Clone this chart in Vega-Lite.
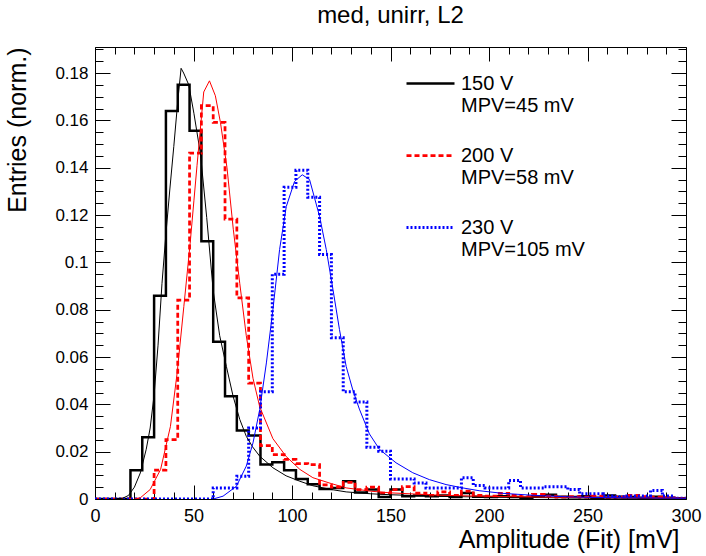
{
  "$schema": "https://vega.github.io/schema/vega-lite/v6.json",
  "width": 591,
  "height": 452,
  "autosize": "none",
  "padding": {"left": 95, "top": 47, "right": 20, "bottom": 57},
  "background": "white",
  "config": {"view": {"stroke": "black", "strokeWidth": 1}, "font": "Liberation Sans"},
  "title": {"text": "med, unirr, L2", "fontSize": 24, "font": "Liberation Sans", "fontWeight": "normal", "color": "black", "anchor": "middle", "offset": 12},
  "datasets": {
    "hist": [
      {"s":"150","x":0,"v":0},{"s":"150","x":6,"v":0},{"s":"150","x":12,"v":0},{"s":"150","x":18,"v":0.0122},{"s":"150","x":24,"v":0.0261},{"s":"150","x":30,"v":0.0859},{"s":"150","x":36,"v":0.164},{"s":"150","x":42,"v":0.175},{"s":"150","x":48,"v":0.1556},{"s":"150","x":54,"v":0.1089},
      {"s":"150","x":60,"v":0.0665},{"s":"150","x":66,"v":0.0434},{"s":"150","x":72,"v":0.0289},{"s":"150","x":78,"v":0.0268},{"s":"150","x":84,"v":0.0146},{"s":"150","x":90,"v":0.0155},{"s":"150","x":96,"v":0.0122},{"s":"150","x":102,"v":0.0084},{"s":"150","x":108,"v":0.0062},{"s":"150","x":114,"v":0.0042},
      {"s":"150","x":120,"v":0.0046},{"s":"150","x":126,"v":0.0075},{"s":"150","x":132,"v":0.0027},{"s":"150","x":138,"v":0.004},{"s":"150","x":144,"v":0.0008},{"s":"150","x":150,"v":0.004},{"s":"150","x":156,"v":0.0012},{"s":"150","x":162,"v":0.0015},{"s":"150","x":168,"v":0.0012},{"s":"150","x":174,"v":0.0015},
      {"s":"150","x":180,"v":0.0008},{"s":"150","x":186,"v":0.0025},{"s":"150","x":192,"v":0.001},{"s":"150","x":198,"v":0.0008},{"s":"150","x":204,"v":0.0012},{"s":"150","x":210,"v":0.0008},{"s":"150","x":216,"v":0.0005},{"s":"150","x":222,"v":0.0012},{"s":"150","x":228,"v":0.0018},{"s":"150","x":234,"v":0.001},
      {"s":"150","x":240,"v":0.0008},{"s":"150","x":246,"v":0.0012},{"s":"150","x":252,"v":0.0005},{"s":"150","x":258,"v":0.0015},{"s":"150","x":264,"v":0.001},{"s":"150","x":270,"v":0.0008},{"s":"150","x":276,"v":0.0005},{"s":"150","x":282,"v":0.001},{"s":"150","x":288,"v":0.0005},{"s":"150","x":294,"v":0.0003},{"s":"150","x":300,"v":0.0003},
      {"s":"200","x":0,"v":0},{"s":"200","x":6,"v":0},{"s":"200","x":12,"v":0},{"s":"200","x":18,"v":0},{"s":"200","x":24,"v":0},{"s":"200","x":30,"v":0.0122},{"s":"200","x":36,"v":0.0251},{"s":"200","x":42,"v":0.084},{"s":"200","x":48,"v":0.1462},{"s":"200","x":54,"v":0.1662},
      {"s":"200","x":60,"v":0.1591},{"s":"200","x":66,"v":0.1183},{"s":"200","x":72,"v":0.085},{"s":"200","x":78,"v":0.049},{"s":"200","x":84,"v":0.0226},{"s":"200","x":90,"v":0.0188},{"s":"200","x":96,"v":0.0167},{"s":"200","x":102,"v":0.015},{"s":"200","x":108,"v":0.0145},{"s":"200","x":114,"v":0.006},
      {"s":"200","x":120,"v":0.005},{"s":"200","x":126,"v":0.007},{"s":"200","x":132,"v":0.004},{"s":"200","x":138,"v":0.005},{"s":"200","x":144,"v":0.0025},{"s":"200","x":150,"v":0.004},{"s":"200","x":156,"v":0.0052},{"s":"200","x":162,"v":0.0025},{"s":"200","x":168,"v":0.0015},{"s":"200","x":174,"v":0.003},
      {"s":"200","x":180,"v":0.0015},{"s":"200","x":186,"v":0.0033},{"s":"200","x":192,"v":0.0015},{"s":"200","x":198,"v":0.0012},{"s":"200","x":204,"v":0.0024},{"s":"200","x":210,"v":0.0015},{"s":"200","x":216,"v":0.001},{"s":"200","x":222,"v":0.002},{"s":"200","x":228,"v":0.0012},{"s":"200","x":234,"v":0.0008},
      {"s":"200","x":240,"v":0.001},{"s":"200","x":246,"v":0.0008},{"s":"200","x":252,"v":0.0012},{"s":"200","x":258,"v":0.0005},{"s":"200","x":264,"v":0.0008},{"s":"200","x":270,"v":0.0015},{"s":"200","x":276,"v":0.001},{"s":"200","x":282,"v":0.0008},{"s":"200","x":288,"v":0.0005},{"s":"200","x":294,"v":0},{"s":"200","x":300,"v":0},
      {"s":"230","x":0,"v":0},{"s":"230","x":6,"v":0},{"s":"230","x":12,"v":0},{"s":"230","x":18,"v":0},{"s":"230","x":24,"v":0},{"s":"230","x":30,"v":0},{"s":"230","x":36,"v":0},{"s":"230","x":42,"v":0},{"s":"230","x":48,"v":0},{"s":"230","x":54,"v":0},
      {"s":"230","x":60,"v":0.0047},{"s":"230","x":66,"v":0.0047},{"s":"230","x":72,"v":0.0096},{"s":"230","x":78,"v":0.03},{"s":"230","x":84,"v":0.0453},{"s":"230","x":90,"v":0.095},{"s":"230","x":96,"v":0.1317},{"s":"230","x":102,"v":0.1389},{"s":"230","x":108,"v":0.1275},{"s":"230","x":114,"v":0.1033},
      {"s":"230","x":120,"v":0.0681},{"s":"230","x":126,"v":0.0453},{"s":"230","x":132,"v":0.041},{"s":"230","x":138,"v":0.0219},{"s":"230","x":144,"v":0.0202},{"s":"230","x":150,"v":0.0085},{"s":"230","x":156,"v":0.0085},{"s":"230","x":162,"v":0.0068},{"s":"230","x":168,"v":0.0047},{"s":"230","x":174,"v":0.0047},
      {"s":"230","x":180,"v":0.0047},{"s":"230","x":186,"v":0.009},{"s":"230","x":192,"v":0.0057},{"s":"230","x":198,"v":0.0047},{"s":"230","x":204,"v":0.0047},{"s":"230","x":210,"v":0.0078},{"s":"230","x":216,"v":0.0047},{"s":"230","x":222,"v":0.0047},{"s":"230","x":228,"v":0.0052},{"s":"230","x":234,"v":0.0052},
      {"s":"230","x":240,"v":0.004},{"s":"230","x":246,"v":0.0022},{"s":"230","x":252,"v":0.0022},{"s":"230","x":258,"v":0.0013},{"s":"230","x":264,"v":0.001},{"s":"230","x":270,"v":0.0013},{"s":"230","x":276,"v":0.0013},{"s":"230","x":282,"v":0.0036},{"s":"230","x":288,"v":0.0013},{"s":"230","x":294,"v":0.0003},{"s":"230","x":300,"v":0.0003}
    ],
    "fit": [
      {"s":"150","x":10,"v":0},{"s":"150","x":14,"v":0.0003},{"s":"150","x":17,"v":0.0015},{"s":"150","x":20,"v":0.005},{"s":"150","x":23,"v":0.011},{"s":"150","x":26,"v":0.021},{"s":"150","x":28,"v":0.03},{"s":"150","x":30,"v":0.044},{"s":"150","x":32,"v":0.065},{"s":"150","x":34,"v":0.091},
      {"s":"150","x":36,"v":0.112},{"s":"150","x":38,"v":0.131},{"s":"150","x":40,"v":0.149},{"s":"150","x":42,"v":0.168},{"s":"150","x":43.7,"v":0.182},{"s":"150","x":45,"v":0.18},{"s":"150","x":47.6,"v":0.175},{"s":"150","x":50.2,"v":0.163},{"s":"150","x":53.5,"v":0.146},{"s":"150","x":56.7,"v":0.119},
      {"s":"150","x":60,"v":0.088},{"s":"150","x":63.3,"v":0.069},{"s":"150","x":66.7,"v":0.056},{"s":"150","x":70.1,"v":0.0434},{"s":"150","x":73.5,"v":0.0336},{"s":"150","x":76.8,"v":0.0265},{"s":"150","x":80,"v":0.022},{"s":"150","x":83.6,"v":0.0181},{"s":"150","x":90.3,"v":0.0132},{"s":"150","x":97,"v":0.0098},
      {"s":"150","x":104,"v":0.0075},{"s":"150","x":110.6,"v":0.0056},{"s":"150","x":120,"v":0.004},{"s":"150","x":127.5,"v":0.003},{"s":"150","x":140,"v":0.0022},{"s":"150","x":150,"v":0.0018},{"s":"150","x":175,"v":0.0011},{"s":"150","x":200,"v":0.0008},{"s":"150","x":250,"v":0.0004},{"s":"150","x":300,"v":0.0002},
      {"s":"200","x":20,"v":0},{"s":"200","x":23,"v":0.0005},{"s":"200","x":28,"v":0.004},{"s":"200","x":33.3,"v":0.0125},{"s":"200","x":38.3,"v":0.0307},{"s":"200","x":41.7,"v":0.0533},{"s":"200","x":45.1,"v":0.0814},{"s":"200","x":48.3,"v":0.108},{"s":"200","x":50.2,"v":0.126},{"s":"200","x":51.8,"v":0.141},
      {"s":"200","x":55.2,"v":0.172},{"s":"200","x":58.1,"v":0.1767},{"s":"200","x":61.1,"v":0.1704},{"s":"200","x":63.7,"v":0.159},{"s":"200","x":67,"v":0.14},{"s":"200","x":70.2,"v":0.114},{"s":"200","x":73.5,"v":0.091},{"s":"200","x":76.8,"v":0.069},{"s":"200","x":80.2,"v":0.051},{"s":"200","x":83.6,"v":0.039},
      {"s":"200","x":90.3,"v":0.0255},{"s":"200","x":97,"v":0.018},{"s":"200","x":104,"v":0.0125},{"s":"200","x":110.6,"v":0.009},{"s":"200","x":120,"v":0.0065},{"s":"200","x":127.5,"v":0.0047},{"s":"200","x":140,"v":0.0033},{"s":"200","x":150,"v":0.0026},{"s":"200","x":175,"v":0.0016},{"s":"200","x":200,"v":0.0011},{"s":"200","x":250,"v":0.0006},{"s":"200","x":300,"v":0.0004},
      {"s":"230","x":60,"v":0},{"s":"230","x":65,"v":0.0012},{"s":"230","x":71.8,"v":0.0054},{"s":"230","x":76.8,"v":0.0139},{"s":"230","x":80.2,"v":0.0237},{"s":"230","x":83.6,"v":0.0378},{"s":"230","x":87,"v":0.0575},{"s":"230","x":90.3,"v":0.08},{"s":"230","x":93.7,"v":0.1054},{"s":"230","x":97.1,"v":0.1236},
      {"s":"230","x":101.3,"v":0.1342},{"s":"230","x":105.2,"v":0.137},{"s":"230","x":108.9,"v":0.135},{"s":"230","x":114,"v":0.1194},{"s":"230","x":117.4,"v":0.1054},{"s":"230","x":120.8,"v":0.0885},{"s":"230","x":124.1,"v":0.0716},{"s":"230","x":127.5,"v":0.056},{"s":"230","x":130.9,"v":0.046},{"s":"230","x":134.2,"v":0.038},
      {"s":"230","x":139.3,"v":0.0275},{"s":"230","x":144.4,"v":0.021},{"s":"230","x":152.8,"v":0.0153},{"s":"230","x":161.3,"v":0.0111},{"s":"230","x":169.7,"v":0.0082},{"s":"230","x":178.2,"v":0.0061},{"s":"230","x":186.6,"v":0.0047},{"s":"230","x":195,"v":0.0035},{"s":"230","x":206.8,"v":0.0024},{"s":"230","x":223.7,"v":0.0015},
      {"s":"230","x":240.6,"v":0.0009},{"s":"230","x":257.5,"v":0.0006},{"s":"230","x":275,"v":0.0005},{"s":"230","x":300,"v":0.0003}
    ]
  },
  "layer": [
    {
      "data": {"name": "hist"},
      "mark": {"type": "line", "interpolate": "step-after", "clip": true},
      "encoding": {
        "x": {"field": "x", "type": "quantitative", "scale": {"domain": [0, 300], "nice": false, "zero": false},
          "axis": {"orient": "bottom", "values": [0,10,20,30,40,50,60,70,80,90,100,110,120,130,140,150,160,170,180,190,200,210,220,230,240,250,260,270,280,290,300],
            "tickSize": {"condition": {"test": "datum.value % 50 === 0", "value": -14}, "value": -7},
            "labelExpr": "datum.value % 50 === 0 ? format(datum.value, 'd') : ''",
            "labelFontSize": 18, "labelFont": "Liberation Sans", "labelColor": "black", "labelPadding": 22,
            "labelFlush": false, "labelOverlap": false, "labelBound": false, "domain": false, "grid": false,
            "tickColor": "black", "tickWidth": 1,
            "title": "Amplitude (Fit) [mV]", "titleFontSize": 25, "titleFont": "Liberation Sans", "titleFontWeight": "normal", "titleColor": "black", "titleAnchor": "end", "titleAlign": "right", "titleX": 584, "titlePadding": -5}},
        "y": {"field": "v", "type": "quantitative", "scale": {"domain": [0, 0.191], "nice": false},
          "axis": {"orient": "left", "values": [0,0.005,0.01,0.015,0.02,0.025,0.03,0.035,0.04,0.045,0.05,0.055,0.06,0.065,0.07,0.075,0.08,0.085,0.09,0.095,0.1,0.105,0.11,0.115,0.12,0.125,0.13,0.135,0.14,0.145,0.15,0.155,0.16,0.165,0.17,0.175,0.18,0.185,0.19],
            "tickSize": {"condition": {"test": "round(datum.value * 1000) % 20 === 0", "value": -15}, "value": -8},
            "labelExpr": "round(datum.value * 1000) % 20 === 0 ? format(datum.value, '~g') : ''",
            "labelFontSize": 17, "labelFont": "Liberation Sans", "labelColor": "black", "labelPadding": 22,
            "labelFlush": false, "labelOverlap": false, "labelBound": false, "domain": false, "grid": false,
            "tickColor": "black", "tickWidth": 1,
            "title": "Entries (norm.)", "titleFontSize": 25, "titleFont": "Liberation Sans", "titleFontWeight": "normal", "titleColor": "black", "titleAnchor": "end", "titlePadding": 24}},
        "stroke": {"field": "s", "type": "nominal",
          "scale": {"domain": ["150", "200", "230"], "range": ["#000000", "#ff0000", "#0000ff"]},
          "legend": {"orient": "none", "legendX": 310, "legendY": 11, "title": null, "padding": 0,
            "symbolType": "stroke", "symbolSize": 2304, "symbolStrokeWidth": 2,
            "labelFontSize": 20, "labelFont": "Liberation Sans", "labelColor": "black", "labelOffset": 5, "labelBaseline": "middle",
            "rowPadding": 14,
            "labelExpr": "datum.label == '150' ? ['150 V', 'MPV=45 mV'] : datum.label == '200' ? ['200 V', 'MPV=58 mV'] : ['230 V', 'MPV=105 mV']"}},
        "strokeDash": {"field": "s", "type": "nominal",
          "scale": {"domain": ["150", "200", "230"], "range": [[1, 0], [5, 3], [2, 2]]},
          "legend": {"orient": "none", "legendX": 310, "legendY": 11, "title": null, "padding": 0,
            "symbolType": "stroke", "symbolSize": 2304, "symbolStrokeWidth": 2,
            "labelFontSize": 20, "labelFont": "Liberation Sans", "labelColor": "black", "labelOffset": 5, "labelBaseline": "middle",
            "rowPadding": 14,
            "labelExpr": "datum.label == '150' ? ['150 V', 'MPV=45 mV'] : datum.label == '200' ? ['200 V', 'MPV=58 mV'] : ['230 V', 'MPV=105 mV']"}},
        "strokeWidth": {"field": "s", "type": "ordinal", "scale": {"domain": ["150", "200", "230"], "range": [2.5, 3, 2]}, "legend": null}
      }
    },
    {
      "data": {"name": "fit"},
      "mark": {"type": "line", "strokeWidth": 1, "clip": true},
      "encoding": {
        "x": {"field": "x", "type": "quantitative",
          "axis": {"orient": "top", "values": [0,10,20,30,40,50,60,70,80,90,100,110,120,130,140,150,160,170,180,190,200,210,220,230,240,250,260,270,280,290,300],
            "tickSize": {"condition": {"test": "datum.value % 50 === 0", "value": -14}, "value": -7},
            "labels": false, "domain": false, "grid": false, "tickColor": "black", "title": null}},
        "y": {"field": "v", "type": "quantitative",
          "axis": {"orient": "right", "values": [0,0.005,0.01,0.015,0.02,0.025,0.03,0.035,0.04,0.045,0.05,0.055,0.06,0.065,0.07,0.075,0.08,0.085,0.09,0.095,0.1,0.105,0.11,0.115,0.12,0.125,0.13,0.135,0.14,0.145,0.15,0.155,0.16,0.165,0.17,0.175,0.18,0.185,0.19],
            "tickSize": {"condition": {"test": "round(datum.value * 1000) % 20 === 0", "value": -15}, "value": -8},
            "labels": false, "domain": false, "grid": false, "tickColor": "black", "title": null}},
        "stroke": {"field": "s", "type": "nominal"}
      }
    }
  ],
  "resolve": {"axis": {"x": "independent", "y": "independent"}}
}
